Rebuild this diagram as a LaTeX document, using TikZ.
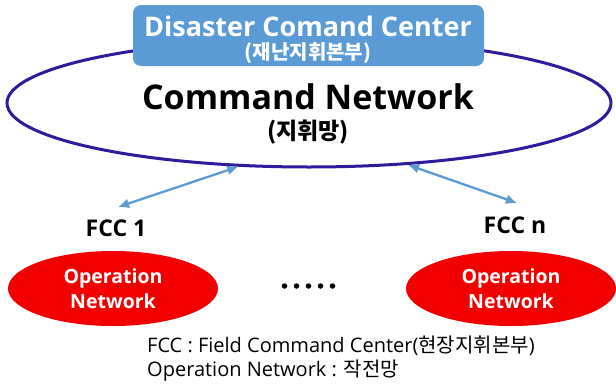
\documentclass[tikz,border=0pt]{standalone}
\usepackage{fontspec}
\setmainfont{Open Sans}
\newfontfamily\kr{Noto Sans CJK KR}
\usetikzlibrary{shapes.geometric,arrows.meta}
\definecolor{cmdline}{RGB}{46,28,156}
\definecolor{boxblue}{RGB}{91,155,213}
\definecolor{opred}{RGB}{242,0,0}
\definecolor{arrblue}{RGB}{91,155,213}
\tikzset{
  bigellipse/.style={ellipse, draw=cmdline, line width=3pt, fill=white, minimum width=604pt, minimum height=128pt, inner sep=0pt},
  dccbox/.style={rectangle, rounded corners=8pt, fill=boxblue, minimum width=351pt, minimum height=61pt, inner sep=0pt},
  openet/.style={ellipse, fill=opred, minimum width=210pt, minimum height=75pt, inner sep=0pt, text=white, align=center, font=\bfseries\fontsize{19.5}{25}\selectfont},
  fcclabel/.style={font=\bfseries\fontsize{23}{26}\selectfont, inner sep=0pt},
  legendtxt/.style={anchor=base west, inner sep=0pt, font=\fontsize{20}{22}\selectfont},
  linkarrow/.style={draw=arrblue, line width=2.3pt, {Latex[length=11pt,width=10pt]}-{Latex[length=11pt,width=10pt]}},
  dotmark/.style={circle, fill=black, minimum size=5.5pt, inner sep=0pt}
}
\begin{document}
\begin{tikzpicture}[x=1pt,y=-1pt]
\useasboundingbox (0,0) rectangle (616,383);
\fill[white] (0,0) rectangle (616,383);
% command network ellipse
\node[bigellipse] (cmdnet) at (309,103) {};
% disaster command center box
\node[dccbox] (dcc) at (308.5,35.5) {};
\node[text=white, inner sep=0pt, font=\bfseries\fontsize{27}{30}\selectfont] (dcctitle) at (308,26) {Disaster Comand Center};
\node[text=white, inner sep=0pt, font=\kr\bfseries\fontsize{20}{22}\selectfont] (dccsub) at (308,53) {(재난지휘본부)};
% command network text
\node[inner sep=0pt, font=\bfseries\fontsize{34}{40}\selectfont] (cmdtitle) at (308,97) {Command Network};
\node[inner sep=0pt, font=\kr\bfseries\fontsize{23}{26}\selectfont] (cmdsub) at (308,132) {(지휘망)};
% FCC labels
\node[fcclabel] (fcc1) at (116,228) {FCC 1};
\node[fcclabel] (fccn) at (515,225) {FCC n};
\coordinate (a1) at (118,207);
\coordinate (an) at (517,203);
\draw[linkarrow] (a1) -- (cmdnet.222);
\draw[linkarrow] (cmdnet.328.5) -- (an);
% operation networks
\node[openet] (op1) at (113,288.5) {Operation\\Network};
\node[openet] (opn) at (511,288.5) {Operation\\Network};
% dots
\foreach \i in {0,...,4} {
  \node[dotmark] (dot\i) at (284.5+12*\i,286) {};
}
% legend
\node[legendtxt] (legend1) at (147,352) {FCC : Field Command Center({\kr 현장지휘본부})};
\node[legendtxt] (legend2) at (147,376) {Operation Network : {\kr 작전망}};
\end{tikzpicture}
\end{document}
